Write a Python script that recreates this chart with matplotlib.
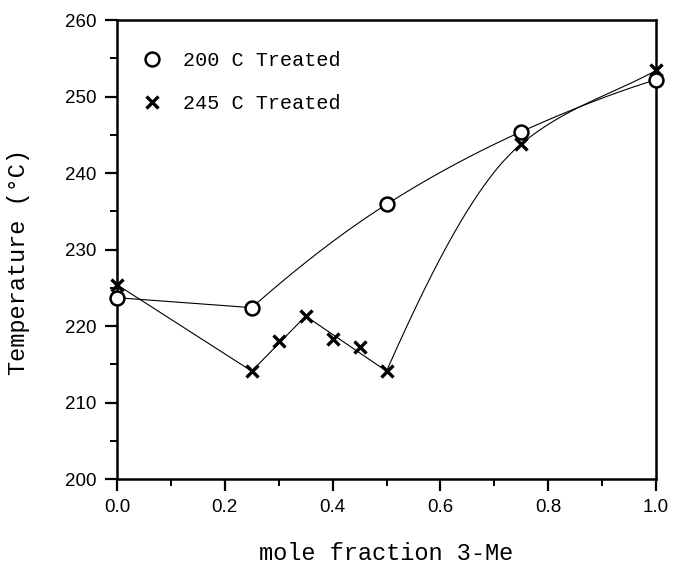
import numpy as np
import matplotlib
matplotlib.use("Agg")
import matplotlib.pyplot as plt

# data
frac_200 = [0.0, 0.25, 0.50, 0.75, 1.0]
temp_200 = [223.7, 222.4, 235.9, 245.4, 252.2]

frac_245 = [0.0, 0.25, 0.30, 0.35, 0.40, 0.45, 0.50, 0.75, 1.0]
temp_245 = [225.4, 214.1, 218.1, 221.3, 218.3, 217.3, 214.1, 243.8, 253.4]

# which points the hand-drawn guide lines go through
guide_200_straight = [0, 1]
guide_200_curve = [1, 2, 3, 4]
guide_245_straight = [0, 1, 3, 6]
guide_245_curve = [6, 7, 8]

x_ticks = [0.0, 0.2, 0.4, 0.6, 0.8, 1.0]
y_ticks = [200, 210, 220, 230, 240, 250, 260]

MONO = "Liberation Mono"
SANS = "Liberation Sans"


def smooth(xk, yk, n=200):
    """Monotone cubic Hermite (pchip) through the knots."""
    xk = np.asarray(xk, float)
    yk = np.asarray(yk, float)
    h = np.diff(xk)
    d = np.diff(yk) / h
    m = np.empty_like(xk)
    for i in range(1, len(xk) - 1):
        m[i] = 2.0 / (1.0 / d[i - 1] + 1.0 / d[i]) if d[i - 1] * d[i] > 0 else 0.0
    m0 = ((2 * h[0] + h[1]) * d[0] - h[0] * d[1]) / (h[0] + h[1])
    m[0] = m0 if m0 * d[0] > 0 else d[0]
    mn = ((2 * h[-1] + h[-2]) * d[-1] - h[-1] * d[-2]) / (h[-1] + h[-2])
    m[-1] = mn if mn * d[-1] > 0 and abs(mn) > abs(d[-1]) * 0.5 else d[-1]
    xs, ys = [], []
    for i in range(len(xk) - 1):
        t = np.linspace(0, 1, n)
        h00 = 2 * t**3 - 3 * t**2 + 1
        h10 = t**3 - 2 * t**2 + t
        h01 = -2 * t**3 + 3 * t**2
        h11 = t**3 - t**2
        xs.append(xk[i] + t * h[i])
        ys.append(h00 * yk[i] + h10 * h[i] * m[i] + h01 * yk[i + 1] + h11 * h[i] * m[i + 1])
    return np.concatenate(xs), np.concatenate(ys)


fx200 = np.array(frac_200)
ft200 = np.array(temp_200)
fx245 = np.array(frac_245)
ft245 = np.array(temp_245)

fig = plt.figure(figsize=(6.76, 5.77), dpi=100)
ax = fig.add_axes([117 / 676, 1 - 479 / 577, 539 / 676, 459 / 577])

lw = 0.8
ax.plot(fx200[guide_200_straight], ft200[guide_200_straight], color="black", lw=lw)
cx, cy = smooth(fx200[guide_200_curve], ft200[guide_200_curve])
ax.plot(cx, cy, color="black", lw=lw)
ax.plot(fx245[guide_245_straight], ft245[guide_245_straight], color="black", lw=lw)
cx, cy = smooth(fx245[guide_245_curve], ft245[guide_245_curve])
ax.plot(cx, cy, color="black", lw=lw)

ax.plot(frac_245, temp_245, ls="none", marker="x", ms=8, mew=2.4, color="black",
        clip_on=False, zorder=4, label="245 C Treated")
ax.plot(frac_200, temp_200, ls="none", marker="o", ms=10, mew=1.8, mfc="white",
        mec="black", clip_on=False, zorder=5, label="200 C Treated")

ax.set_xlim(0, 1)
ax.set_ylim(200, 260)
ax.set_xticks(x_ticks)
ax.set_xticklabels([f"{v:.1f}" for v in x_ticks])
ax.set_xticks(np.arange(0.1, 1.0, 0.2), minor=True)
ax.set_yticks(y_ticks)
ax.set_yticks(np.arange(205, 260, 10), minor=True)

for side in ["left", "bottom", "top", "right"]:
    ax.spines[side].set_linewidth(1.8)
ax.tick_params(which="major", direction="out", length=8.5, width=1.6, pad=6,
               labelsize=13.5, top=False, right=False)
ax.tick_params(which="minor", direction="out", length=5, width=1.4,
               top=False, right=False)
for lab in ax.get_xticklabels() + ax.get_yticklabels():
    lab.set_family(SANS)

handles, labels = ax.get_legend_handles_labels()
ax.legend(handles[::-1], labels[::-1], loc="upper left", bbox_to_anchor=(0.046, 0.933),
          frameon=False, numpoints=1, handlelength=1.0, handletextpad=1.05,
          labelspacing=1.2, borderpad=0, borderaxespad=0,
          prop={"family": MONO, "size": 14.5})

fig.text(18.5 / 676, 1 - 262 / 577, "Temperature (°C)", rotation=90, ha="center",
         va="center", family=MONO, size=17)
fig.text(386 / 676, 1 - 553 / 577, "mole fraction 3-Me", ha="center", va="center",
         family=MONO, size=17)

fig.savefig("out.png", dpi=100)
